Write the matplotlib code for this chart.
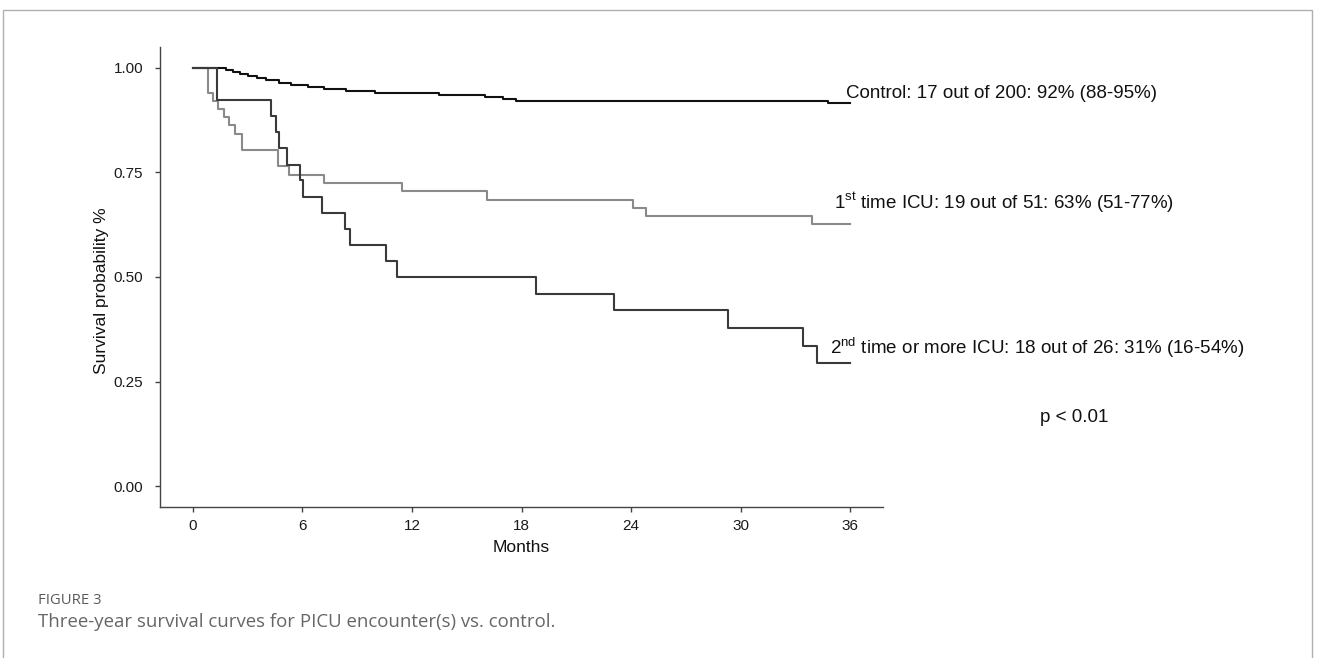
import matplotlib
matplotlib.use("Agg")
import matplotlib.pyplot as plt
from matplotlib.patches import Rectangle

# ---- data ----
months_control = [0, 1.8, 2.2, 2.6, 3.0, 3.5, 4.0, 4.7, 5.4, 6.3, 7.2, 8.4, 10.0, 13.5, 16.0, 17.0, 17.7, 34.8, 36]
surv_control = [1.0, 0.995, 0.99, 0.985, 0.98, 0.975, 0.97, 0.965, 0.96, 0.955, 0.95, 0.945, 0.94, 0.935, 0.93, 0.925, 0.92, 0.915, 0.915]

months_first = [0, 0.84, 1.12, 1.39, 1.7, 2.0, 2.3, 2.67, 4.68, 5.28, 7.2, 11.43, 16.1, 24.1, 24.8, 33.9, 36]
surv_first = [1.0, 0.941, 0.922, 0.902, 0.882, 0.863, 0.843, 0.804, 0.765, 0.745, 0.725, 0.706, 0.684, 0.665, 0.646, 0.626, 0.626]

months_second = [0, 1.3, 4.3, 4.55, 4.73, 5.17, 5.86, 6.05, 7.05, 8.33, 8.6, 10.6, 11.2, 18.8, 23.07, 29.3, 33.44, 34.2, 36]
surv_second = [1.0, 0.923, 0.885, 0.846, 0.808, 0.769, 0.731, 0.692, 0.654, 0.615, 0.577, 0.538, 0.50, 0.46, 0.42, 0.378, 0.336, 0.295, 0.295]

x_ticks = [0, 6, 12, 18, 24, 30, 36]
y_ticks = [0.00, 0.25, 0.50, 0.75, 1.00]
y_tick_labels = ["0.00", "0.25", "0.50", "0.75", "1.00"]

label_control = "Control: 17 out of 200: 92% (88-95%)"
label_first = r"1$^{\mathrm{st}}$ time ICU: 19 out of 51: 63% (51-77%)"
label_second = r"2$^{\mathrm{nd}}$ time or more ICU: 18 out of 26: 31% (16-54%)"
p_text = "p < 0.01"

plt.rcParams["font.family"] = ["Liberation Sans", "DejaVu Sans"]
plt.rcParams["mathtext.fontset"] = "custom"
plt.rcParams["mathtext.rm"] = "Liberation Sans"

W, H = 1317, 658
fig = plt.figure(figsize=(W / 100, H / 100), dpi=100)

# axes placement in pixels
left_px, right_px = 160, 883
top_px, bottom_px = 47, 507
ax = fig.add_axes([left_px / W, 1 - bottom_px / H, (right_px - left_px) / W, (bottom_px - top_px) / H])

ax.step(months_control, surv_control, where="post", color="#111111", lw=1.5)
ax.step(months_first, surv_first, where="post", color="#8a8a8a", lw=1.5)
ax.step(months_second, surv_second, where="post", color="#3a3a3a", lw=1.5)

ax.set_xlim(-1.8, 37.8)
ax.set_ylim(-0.05, 1.05)
ax.set_xticks(x_ticks)
ax.set_yticks(y_ticks)
ax.set_yticklabels(y_tick_labels)
for s in ["top", "right"]:
    ax.spines[s].set_visible(False)
for s in ["left", "bottom"]:
    ax.spines[s].set_color("#444444")
    ax.spines[s].set_linewidth(1.0)
ax.tick_params(axis="both", colors="#444444", labelcolor="#1a1a1a", labelsize=11, length=3.5, width=1.0)
ax.tick_params(axis="y", pad=8.5)
ax.tick_params(axis="x", pad=5.5)

ax.set_xlabel("Months", fontsize=12.5, color="#111111", labelpad=4.5)
ax.set_ylabel("Survival probability %", fontsize=12.5, color="#111111")
ax.yaxis.set_label_coords(-0.07, 0.47)

ax.text(35.8, 0.94, label_control, fontsize=13.5, color="#111111", va="center", ha="left", clip_on=False)
ax.text(35.1, 0.678, label_first, fontsize=13.5, color="#111111", va="center", ha="left", clip_on=False)
ax.text(34.9, 0.33, label_second, fontsize=13.5, color="#111111", va="center", ha="left", clip_on=False)
ax.text(46.4, 0.165, p_text, fontsize=13.5, color="#111111", va="center", ha="left", clip_on=False)

# caption
fig.text(38 / W, 1 - 600 / H, "FIGURE 3", fontsize=10.7, color="#5a5a5a",
         family=["Open Sans", "DejaVu Sans"], va="center", ha="left")
fig.text(38 / W, 1 - 622 / H, "Three-year survival curves for PICU encounter(s) vs. control.",
         fontsize=13.4, color="#666666", family=["Open Sans", "DejaVu Sans"], va="center", ha="left")

# figure frame
fig.patches.append(Rectangle((3 / W, -0.05), (W - 8) / W, 1.05 - 10 / H, transform=fig.transFigure,
                             fill=False, edgecolor="#b0b0b0", lw=1.0))

fig.savefig("out.png", dpi=100)
